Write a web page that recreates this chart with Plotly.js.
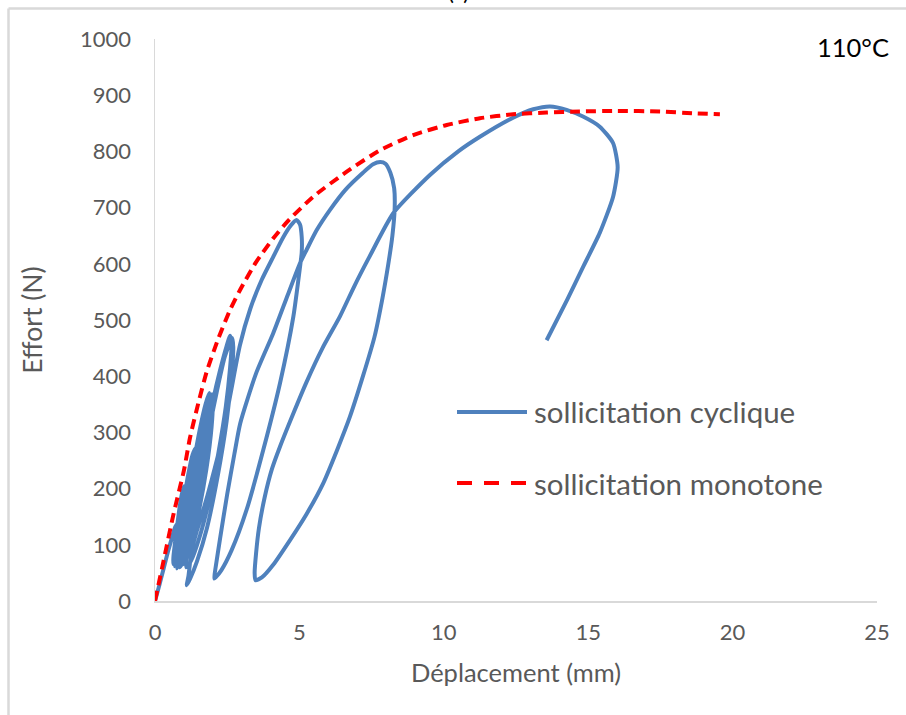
<!DOCTYPE html>
<html><head><meta charset="utf-8">
<script src="https://cdn.plot.ly/plotly-3.0.1.min.js"></script>
<style>html,body{margin:0;padding:0;background:#fff;overflow:hidden;} #chart{width:906px;height:715px;}</style>
</head><body><div id="chart"></div>
<script>
// Monotone loading curve (mm, N)
const xMonotone = [0, 0.3, 0.63, 1.0, 1.21, 1.5, 1.79, 2.2, 2.6, 2.94, 3.5, 4.09, 4.6, 5.47, 6.64, 7.79, 8.94, 10.1, 11.25, 12.4, 13.56, 14.7, 16.0, 17.5, 18.6, 19.56];
const yMonotone = [0, 72, 152, 232, 290, 352, 408, 468, 518, 553, 603, 645, 676, 719, 764, 802, 829, 847, 859, 866, 869, 871, 872, 871, 868, 866];

// Cyclic loading curve (mm, N)
const xCyclic = [
  0, 0.15, 0.3, 0.45, 0.6, 0.7, 0.76,
  0.78, 0.75, 0.68, 0.63,
  0.64, 0.72, 0.82, 0.92, 1.0,
  1.03, 1.0, 0.88, 0.76, 0.68,
  0.72, 0.85, 1.0, 1.15, 1.3, 1.4,
  1.43, 1.4, 1.25, 1.03, 0.85, 0.76,
  0.8, 0.95, 1.15, 1.35, 1.55, 1.75, 1.88,
  1.91, 1.88, 1.72, 1.45, 1.18, 0.95, 0.86,
  0.9, 1.1, 1.35, 1.6, 1.8, 1.97,
  2.0, 1.96, 1.78, 1.52, 1.25, 1.03, 0.96,
  1.0, 1.12, 1.3, 1.5, 1.75, 2.0, 2.25, 2.47, 2.6,
  2.65, 2.6, 2.45, 2.2, 1.9, 1.55, 1.25, 1.08,
  1.1, 1.3, 1.55, 1.85, 2.15, 2.42, 2.67,
  2.71, 2.66, 2.48, 2.18, 1.8, 1.45, 1.22, 1.1,
  1.16, 1.27, 1.45, 1.65, 1.96, 2.3, 2.62, 2.94, 3.3, 3.7, 4.09, 4.45, 4.7, 4.9,
  5.02, 5.08, 5.08, 5.02, 4.79, 4.33, 3.75, 3.17, 2.65, 2.3, 2.1, 2.05,
  2.1, 2.25, 2.5, 2.75, 2.95, 3.5, 4.09, 4.6, 5.02, 5.25, 5.6, 6.06, 6.6, 7.2, 7.55, 7.8,
  7.98, 8.15, 8.28, 8.3, 8.22, 8.08, 7.88, 7.6, 7.2, 6.75, 6.3, 5.82, 5.25, 4.67, 4.1, 3.7, 3.48,
  3.45, 3.5, 3.6, 3.8, 4.05, 4.33, 4.8, 5.25, 5.8, 6.4, 6.9, 7.4, 8.25, 9.52, 10.5, 11.25, 12.4, 13.1, 13.68,
  14.25, 14.82, 15.4, 15.86, 16.02, 15.86, 15.4, 14.82, 14.27, 13.56
];
const yCyclic = [
  0, 28, 58, 88, 115, 132, 136,
  124, 100, 78, 66,
  80, 115, 155, 188, 204,
  192, 160, 115, 78, 62,
  85, 130, 180, 225, 260, 272,
  260, 225, 165, 108, 70, 58,
  85, 130, 190, 250, 305, 350, 370,
  355, 315, 250, 170, 105, 68, 60,
  85, 145, 215, 285, 335, 368,
  352, 310, 235, 160, 100, 70, 65,
  75, 110, 160, 220, 290, 355, 410, 452, 472,
  458, 415, 345, 265, 185, 115, 72, 60,
  85, 150, 220, 300, 375, 435, 468,
  452, 405, 320, 225, 130, 70, 40, 28,
  45, 91, 125, 158, 215, 285, 370, 455, 520, 572, 612, 648, 668, 678,
  670, 648, 620, 594, 506, 388, 269, 162, 90, 55, 42, 40,
  60, 110, 190, 262, 316, 405, 476, 545, 601, 625, 660, 696, 732, 762, 777, 781,
  778, 762, 735, 700, 650, 600, 540, 470, 400, 328, 268, 209, 155, 108, 65, 42, 37,
  50, 85, 130, 185, 235, 275, 335, 390, 450, 506, 560, 610, 690, 758, 800, 826, 860, 875, 880,
  874, 862, 844, 815, 772, 719, 655, 594, 536, 464
];

const seriesNames = ['sollicitation cyclique', 'sollicitation monotone'];
const xTickVals = [0, 5, 10, 15, 20, 25];
const yTickVals = [0, 100, 200, 300, 400, 500, 600, 700, 800, 900, 1000];
const xTitle = 'Déplacement (mm)';
const yTitle = 'Effort (N)';
const tempLabel = '110°C';
const panelLabel = '(c)';

const BLUE = '#4F81BD';
const RED = '#FF0000';
const GREY = '#595959';
const FONT = 'Lato, "Open Sans", sans-serif';

// page-pixel -> paper helpers for decorations (plot area 155..877 x 39..601)
const L = 155, R = 29, T = 39, B = 114, W = 906, H = 715;
const pw = W - L - R, ph = H - T - B;
const px = v => (v - L) / pw;
const py = v => (H - B - v) / ph;

const traces = [
  {x: xCyclic, y: yCyclic, name: seriesNames[0], type: 'scatter', mode: 'lines',
   line: {color: BLUE, width: 4, shape: 'spline', smoothing: 0.6}, showlegend: false},
  {x: xMonotone, y: yMonotone, name: seriesNames[1], type: 'scatter', mode: 'lines',
   line: {color: RED, width: 4, dash: '10px,6px', shape: 'spline', smoothing: 0.6}, showlegend: false}
];

const layout = {
  width: W, height: H,
  margin: {l: L, r: R, t: T, b: B},
  paper_bgcolor: '#fff', plot_bgcolor: '#fff',
  showlegend: false,
  font: {family: FONT, color: GREY, size: 22},
  xaxis: {
    range: [0, 25], tickvals: xTickVals, showgrid: false, zeroline: false,
    showline: true, linecolor: '#D9D9D9', linewidth: 1.5,
    ticks: 'outside', ticklen: 11, tickcolor: 'rgba(0,0,0,0)',
    tickfont: {family: FONT, size: 22, color: GREY},
    title: {text: xTitle, font: {family: FONT, size: 25.5, color: GREY}, standoff: 20},
    automargin: false, fixedrange: true
  },
  yaxis: {
    range: [0, 1000], tickvals: yTickVals, showgrid: false, zeroline: false,
    showline: true, linecolor: '#D9D9D9', linewidth: 1.5,
    ticks: 'outside', ticklen: 18, tickcolor: 'rgba(0,0,0,0)',
    tickfont: {family: FONT, size: 22, color: GREY},
    title: {text: yTitle, font: {family: FONT, size: 26.5, color: GREY}, standoff: 30},
    automargin: false, fixedrange: true
  },
  shapes: [
    // outer frame (top and left edges)
    {type: 'line', xref: 'paper', yref: 'paper', x0: px(8.5), x1: px(910), y0: py(8.5), y1: py(8.5),
     line: {color: '#D9D9D9', width: 2.5}},
    {type: 'line', xref: 'paper', yref: 'paper', x0: px(8.5), x1: px(8.5), y0: py(8.5), y1: py(720),
     line: {color: '#D9D9D9', width: 2.5}},
    // legend symbols
    {type: 'line', xref: 'paper', yref: 'paper', x0: px(457), x1: px(527), y0: py(412), y1: py(412),
     line: {color: BLUE, width: 4}},
    {type: 'line', xref: 'paper', yref: 'paper', x0: px(457), x1: px(527), y0: py(483), y1: py(483),
     line: {color: RED, width: 4, dash: '15px,12px'}}
  ],
  annotations: [
    {xref: 'paper', yref: 'paper', x: px(532), y: py(412), xanchor: 'left', yanchor: 'middle',
     text: seriesNames[0], showarrow: false, font: {family: FONT, size: 29.5, color: GREY}},
    {xref: 'paper', yref: 'paper', x: px(532), y: py(483), xanchor: 'left', yanchor: 'middle',
     text: seriesNames[1], showarrow: false, font: {family: FONT, size: 29.5, color: GREY}},
    {xref: 'paper', yref: 'paper', x: px(891), y: py(47), xanchor: 'right', yanchor: 'middle',
     text: tempLabel, showarrow: false, font: {family: FONT, size: 25.5, color: '#000'}},
    {xref: 'paper', yref: 'paper', x: px(458), y: py(-9), xanchor: 'center', yanchor: 'middle',
     text: panelLabel, showarrow: false, font: {family: FONT, size: 22, color: '#000'}}
  ]
};

Plotly.newPlot('chart', traces, layout, {displayModeBar: false, staticPlot: true});
</script>
</body></html>
